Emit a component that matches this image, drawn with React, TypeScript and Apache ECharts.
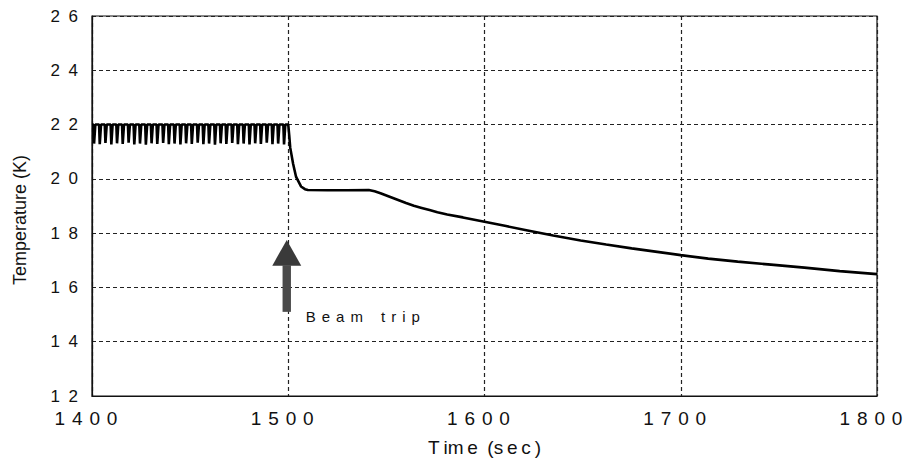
import React, { useEffect, useRef } from 'react';
import * as echarts from 'echarts';

// Temperature record around a beam trip (time in seconds, temperature in K)

// Regulated phase before the trip: plateau, short dip, back to plateau
const holdPhase: [number, number][] = [
  [1400.0, 22.0],
  [1400.70, 22.0], [1401.05, 21.30], [1401.35, 21.30], [1401.70, 22.0],
  [1403.60, 22.0], [1403.95, 21.28], [1404.25, 21.28], [1404.60, 22.0],
  [1406.50, 22.0], [1406.85, 21.32], [1407.15, 21.32], [1407.50, 22.0],
  [1409.50, 22.0], [1409.85, 21.27], [1410.15, 21.27], [1410.50, 22.0],
  [1412.40, 22.0], [1412.75, 21.31], [1413.05, 21.31], [1413.40, 22.0],
  [1415.30, 22.0], [1415.65, 21.29], [1415.95, 21.29], [1416.30, 22.0],
  [1418.30, 22.0], [1418.65, 21.33], [1418.95, 21.33], [1419.30, 22.0],
  [1421.20, 22.0], [1421.55, 21.27], [1421.85, 21.27], [1422.20, 22.0],
  [1424.10, 22.0], [1424.45, 21.30], [1424.75, 21.30], [1425.10, 22.0],
  [1427.10, 22.0], [1427.45, 21.26], [1427.75, 21.26], [1428.10, 22.0],
  [1430.00, 22.0], [1430.35, 21.31], [1430.65, 21.31], [1431.00, 22.0],
  [1432.90, 22.0], [1433.25, 21.29], [1433.55, 21.29], [1433.90, 22.0],
  [1435.90, 22.0], [1436.25, 21.32], [1436.55, 21.32], [1436.90, 22.0],
  [1438.80, 22.0], [1439.15, 21.28], [1439.45, 21.28], [1439.80, 22.0],
  [1441.70, 22.0], [1442.05, 21.30], [1442.35, 21.30], [1442.70, 22.0],
  [1444.70, 22.0], [1445.05, 21.27], [1445.35, 21.27], [1445.70, 22.0],
  [1447.60, 22.0], [1447.95, 21.31], [1448.25, 21.31], [1448.60, 22.0],
  [1450.50, 22.0], [1450.85, 21.29], [1451.15, 21.29], [1451.50, 22.0],
  [1453.50, 22.0], [1453.85, 21.33], [1454.15, 21.33], [1454.50, 22.0],
  [1456.40, 22.0], [1456.75, 21.28], [1457.05, 21.28], [1457.40, 22.0],
  [1459.30, 22.0], [1459.65, 21.30], [1459.95, 21.30], [1460.30, 22.0],
  [1462.30, 22.0], [1462.65, 21.26], [1462.95, 21.26], [1463.30, 22.0],
  [1465.20, 22.0], [1465.55, 21.31], [1465.85, 21.31], [1466.20, 22.0],
  [1468.10, 22.0], [1468.45, 21.29], [1468.75, 21.29], [1469.10, 22.0],
  [1471.10, 22.0], [1471.45, 21.32], [1471.75, 21.32], [1472.10, 22.0],
  [1474.00, 22.0], [1474.35, 21.28], [1474.65, 21.28], [1475.00, 22.0],
  [1476.90, 22.0], [1477.25, 21.30], [1477.55, 21.30], [1477.90, 22.0],
  [1479.90, 22.0], [1480.25, 21.27], [1480.55, 21.27], [1480.90, 22.0],
  [1482.80, 22.0], [1483.15, 21.31], [1483.45, 21.31], [1483.80, 22.0],
  [1485.70, 22.0], [1486.05, 21.29], [1486.35, 21.29], [1486.70, 22.0],
  [1488.70, 22.0], [1489.05, 21.33], [1489.35, 21.33], [1489.70, 22.0],
  [1491.60, 22.0], [1491.95, 21.28], [1492.25, 21.28], [1492.60, 22.0],
  [1494.50, 22.0], [1494.85, 21.30], [1495.15, 21.30], [1495.50, 22.0],
  [1497.50, 22.0], [1497.85, 21.27], [1498.15, 21.27], [1498.50, 22.0],
];

// After the trip: fast drop, short plateau, slow cool-down
const decayTimes = [
  1500, 1500.5, 1501, 1502.5, 1504, 1506.5, 1508.5, 1510, 1520, 1530, 1541,
  1544, 1547, 1551, 1555, 1560, 1564, 1568, 1572, 1576, 1581, 1589, 1600,
  1611, 1622, 1635, 1649, 1662, 1675, 1688, 1700, 1714, 1729, 1746, 1763,
  1781, 1800,
];
const decayTemps = [
  22.0, 21.6, 21.15, 20.55, 20.07, 19.72, 19.62, 19.59, 19.58, 19.58, 19.59,
  19.54, 19.47, 19.36, 19.25, 19.11, 19.01, 18.93, 18.85, 18.77, 18.69, 18.58, 18.42,
  18.26, 18.10, 17.91, 17.73, 17.58, 17.44, 17.31, 17.19, 17.06, 16.95, 16.84, 16.73,
  16.60, 16.49,
];

// Axis ranges
const timeMin = 1400;
const timeMax = 1800;
const timeStep = 100;
const tempMin = 12;
const tempMax = 26;
const tempStep = 2;

// Titles and the beam-trip annotation
const timeTitle = 'T\u2009im\u2009e\u2002(s\u2009e\u2009c\u2009)';
const tempTitle = 'Temperature (K)';
const tripLabel = 'B\u2009\u2009e\u2009\u2009a\u2009\u2009m\u2009\u2009\u2009\u2009\u2009\u2009t\u2009\u2009r\u2009\u2009i\u2009\u2009p';
const tripTime = 1500;
const arrowTipTemp = 17.75;
const arrowBaseTemp = 16.8;
const arrowTailTemp = 15.1;

const spaced = (s: string, gap: string) => s.split('').join(gap);

export default function App() {
  const ref = useRef<HTMLDivElement>(null);

  useEffect(() => {
    if (!ref.current) return;
    const chart = echarts.init(ref.current, undefined, { renderer: 'svg' });

    const points: [number, number][] = holdPhase.slice();
    decayTimes.forEach((t, i) => points.push([t, decayTemps[i]]));

    const gridLine = { show: true, lineStyle: { color: '#222', width: 1.2, type: [4, 3] as number[] } };
    const sans = '"Liberation Sans", Arial, sans-serif';

    chart.setOption({
      animation: false,
      backgroundColor: '#fff',
      grid: {
        left: 92,
        right: 33,
        top: 16,
        bottom: 58,
        show: true,
        borderColor: '#111',
        borderWidth: 1.2,
        containLabel: false,
      },
      xAxis: {
        type: 'value',
        min: timeMin,
        max: timeMax,
        interval: timeStep,
        name: timeTitle,
        nameLocation: 'middle',
        nameGap: 42,
        nameTextStyle: { fontFamily: sans, fontSize: 19, color: '#111' },
        axisLine: { show: true, lineStyle: { color: '#111', width: 1.2 } },
        axisTick: { show: false },
        splitLine: gridLine,
        axisLabel: {
          margin: 13,
          fontFamily: sans,
          fontSize: 19,
          color: '#111',
          padding: [0, 12, 0, 0],
          formatter: (v: number) => spaced(String(v), ' \u200A'),
        },
      },
      yAxis: {
        type: 'value',
        min: tempMin,
        max: tempMax,
        interval: tempStep,
        axisLine: { show: true, lineStyle: { color: '#111', width: 1.2 } },
        axisTick: { show: false },
        splitLine: gridLine,
        axisLabel: {
          margin: 14,
          fontFamily: sans,
          fontSize: 17,
          color: '#111',
          formatter: (v: number) => spaced(String(v), '\u2002'),
        },
      },
      series: [
        {
          type: 'line',
          data: points,
          showSymbol: false,
          symbol: 'none',
          lineStyle: { color: '#000', width: 2.6 },
        },
      ],
    });

    const tip = chart.convertToPixel({ gridIndex: 0 }, [tripTime, arrowTipTemp]) as number[];
    const base = chart.convertToPixel({ gridIndex: 0 }, [tripTime, arrowBaseTemp]) as number[];
    const tail = chart.convertToPixel({ gridIndex: 0 }, [tripTime, arrowTailTemp]) as number[];
    const cx = tip[0] - 1.5;

    chart.setOption({
      graphic: [
        {
          type: 'text',
          x: 20,
          y: 220,
          rotation: Math.PI / 2,
          style: {
            text: tempTitle,
            fontFamily: sans,
            fontSize: 18,
            fill: '#111',
            align: 'center',
            verticalAlign: 'middle',
          },
        },
        {
          type: 'polygon',
          shape: {
            points: [
              [cx, tip[1]],
              [cx - 14.5, base[1]],
              [cx + 14.5, base[1]],
            ],
          },
          style: { fill: '#3a3a3a' },
          z: 10,
        },
        {
          type: 'rect',
          shape: { x: cx - 4.2, y: base[1] - 0.5, width: 8.4, height: tail[1] - base[1] + 0.5 },
          style: { fill: '#4a4a4a' },
          z: 10,
        },
        {
          type: 'text',
          x: cx + 19,
          y: tail[1] + 5,
          style: {
            text: tripLabel,
            fontFamily: sans,
            fontSize: 15,
            fill: '#111',
            verticalAlign: 'middle',
            align: 'left',
          },
          z: 10,
        },
      ],
    });

    return () => chart.dispose();
  }, []);

  return (
    <div
      ref={ref}
      style={{ position: 'absolute', left: 0, top: 0, width: 910, height: 462 }}
    />
  );
}
